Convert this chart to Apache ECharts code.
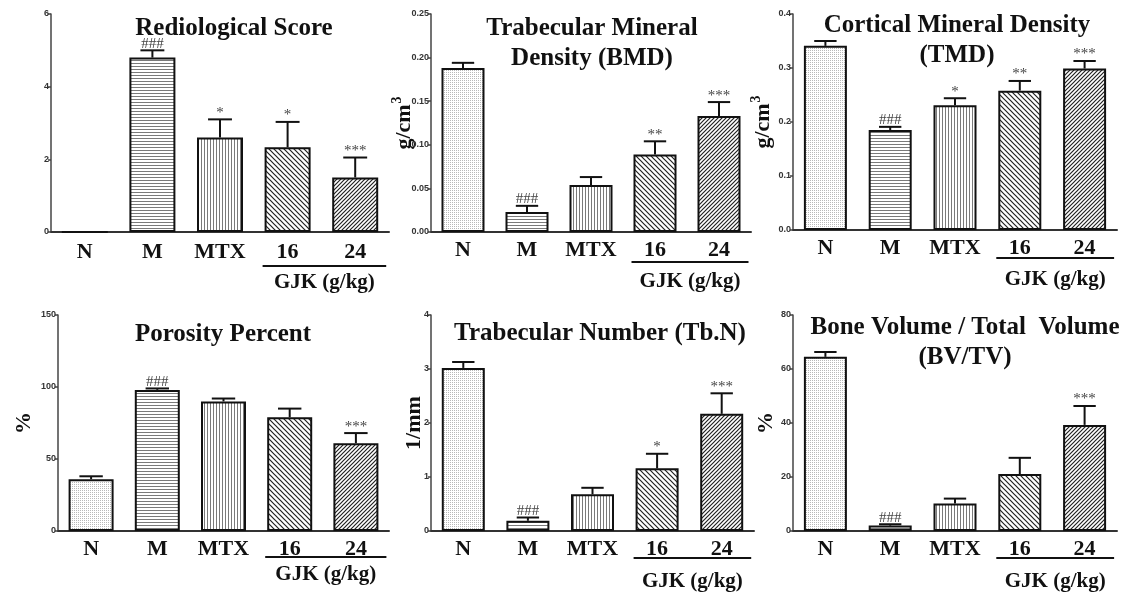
<!DOCTYPE html>
<html>
<head>
<meta charset="utf-8">
<script src="https://cdn.jsdelivr.net/npm/echarts@6/dist/echarts.min.js"></script>
<style>
  html, body { margin: 0; padding: 0; background: #fff; }
  #chart { width: 1128px; height: 595px; }
</style>
</head>
<body>
<div id="chart"></div>
<script>
// Groups shown on every panel
const categories = ['N', 'M', 'MTX', '16', '24'];

// Radiological score
const scoreMean = [0, 4.8, 2.6, 2.33, 1.5];
const scoreErr = [0, 0.2, 0.5, 0.7, 0.55];
const scoreMarks = ['', '###', '*', '*', '***'];

// Trabecular mineral density (g/cm3)
const bmdMean = [0.188, 0.023, 0.054, 0.089, 0.133];
const bmdErr = [0.006, 0.007, 0.009, 0.015, 0.016];
const bmdMarks = ['', '###', '', '**', '***'];

// Cortical mineral density (g/cm3)
const tmdMean = [0.341, 0.185, 0.231, 0.258, 0.299];
const tmdErr = [0.009, 0.006, 0.013, 0.018, 0.014];
const tmdMarks = ['', '###', '*', '**', '***'];

// Porosity (%)
const porMean = [36, 98, 90, 79, 61];
const porErr = [2, 1, 2, 6, 7];
const porMarks = ['', '###', '', '', '***'];

// Trabecular number (1/mm)
const tbnMean = [3.02, 0.19, 0.68, 1.16, 2.17];
const tbnErr = [0.11, 0.06, 0.12, 0.27, 0.38];
const tbnMarks = ['', '###', '', '*', '***'];

// Bone volume / total volume (%)
const bvMean = [64.5, 2.0, 10.2, 21.1, 39.3];
const bvErr = [1.8, 0.5, 1.8, 6, 7];
const bvMarks = ['', '###', '', '', '***'];

// Y-axis ranges: [max, interval, decimals]
const yRanges = [[6, 2, 0], [0.25, 0.05, 2], [0.4, 0.1, 1], [150, 50, 0], [4, 1, 0], [80, 20, 0]];

const titles = [
  'Rediological Score',
  'Trabecular Mineral\nDensity (BMD)',
  'Cortical Mineral Density\n(TMD)',
  'Porosity Percent',
  'Trabecular Number (Tb.N)',
  'Bone Volume / Total  Volume\n(BV/TV)'
];
const yNames = ['', '{b|g/cm}{s|3}', '{b|g/cm}{s|3}', '{b|%}', '{b|1/mm}', '{b|%}'];
const groupLabel = 'GJK (g/kg)';

const panelData = [
  [scoreMean, scoreErr, scoreMarks],
  [bmdMean, bmdErr, bmdMarks],
  [tmdMean, tmdErr, tmdMarks],
  [porMean, porErr, porMarks],
  [tbnMean, tbnErr, tbnMarks],
  [bvMean, bvErr, bvMarks]
];

// Panel geometry
const layout = [
  { left: 51, top: 14, width: 338, height: 218, bar: 46, tx: 234, ty: 14, nameGap: 20, labelGap: 9, lineDrop: 34, textDrop: 17 },
  { left: 431, top: 14, width: 320, height: 218, bar: 43, tx: 592, ty: 14, nameGap: 13, labelGap: 7, lineDrop: 30, textDrop: 20 },
  { left: 793, top: 14, width: 324, height: 216, bar: 43, tx: 957, ty: 11, nameGap: 16, labelGap: 7, lineDrop: 28, textDrop: 22 },
  { left: 58, top: 315, width: 331, height: 216, bar: 45, tx: 223, ty: 320, nameGap: 23, labelGap: 7, lineDrop: 26, textDrop: 18 },
  { left: 431, top: 315, width: 323, height: 216, bar: 43, tx: 600, ty: 319, nameGap: 6, labelGap: 7, lineDrop: 27, textDrop: 24 },
  { left: 793, top: 315, width: 324, height: 216, bar: 43, tx: 965, ty: 313, nameGap: 16, labelGap: 7, lineDrop: 27, textDrop: 24 }
];

// Fill textures for the five groups
function makeTile(w, h, draw) {
  const c = document.createElement('canvas');
  c.width = w; c.height = h;
  const g = c.getContext('2d');
  g.fillStyle = '#fff';
  g.fillRect(0, 0, w, h);
  draw(g, w, h);
  return { image: c, repeat: 'repeat' };
}
const fills = [
  makeTile(2, 2, g => { g.fillStyle = '#b8b8b8'; g.fillRect(0, 0, 1, 1); }),
  makeTile(1, 3, g => { g.fillStyle = '#7a7a7a'; g.fillRect(0, 0, 1, 1); }),
  makeTile(3, 1, g => { g.fillStyle = '#7a7a7a'; g.fillRect(0, 0, 1, 1); }),
  makeTile(5, 5, (g, w, h) => {
    g.strokeStyle = '#222'; g.lineWidth = 1.2;
    g.beginPath();
    g.moveTo(-1, -1); g.lineTo(w + 1, h + 1);
    g.moveTo(-1, h - 1); g.lineTo(1, h + 1);
    g.moveTo(w - 1, -1); g.lineTo(w + 1, 1);
    g.stroke();
  }),
  makeTile(4, 4, (g, w, h) => {
    g.strokeStyle = '#222'; g.lineWidth = 1.2;
    g.beginPath();
    g.moveTo(-1, h + 1); g.lineTo(w + 1, -1);
    g.moveTo(-1, 1); g.lineTo(1, -1);
    g.moveTo(w - 1, h + 1); g.lineTo(w + 1, h - 1);
    g.stroke();
  })
];

const serif = 'Liberation Serif, Times New Roman, serif';
const sans = 'Liberation Sans, Arial, sans-serif';

const grid = [], xAxis = [], yAxis = [], series = [], title = [];

layout.forEach((p, k) => {
  const [mean, err, marks] = panelData[k];
  const [yMax, yStep, dec] = yRanges[k];

  grid.push({ left: p.left, top: p.top, width: p.width, height: p.height });

  title.push({
    text: titles[k], left: p.tx, top: p.ty, textAlign: 'center', padding: 0,
    textStyle: { fontFamily: serif, fontWeight: 'bold', fontSize: 25, lineHeight: 30, color: '#111' }
  });

  xAxis.push({
    type: 'category', gridIndex: k, data: categories,
    axisLine: { lineStyle: { color: '#333', width: 2 } },
    axisTick: { alignWithLabel: true, length: 3, lineStyle: { color: '#333', width: 1.5 } },
    axisLabel: { interval: 0, hideOverlap: false, margin: p.labelGap, fontFamily: serif, fontWeight: 'bold', fontSize: 22, color: '#111' }
  });

  yAxis.push({
    type: 'value', gridIndex: k, min: 0, max: yMax, interval: yStep,
    name: yNames[k], nameLocation: 'middle', nameGap: p.nameGap, nameMoveOverlap: false,
    nameTextStyle: {
      rich: {
        b: { fontFamily: serif, fontWeight: 'bold', fontSize: 22, color: '#111' },
        s: { fontFamily: serif, fontWeight: 'bold', fontSize: 14, color: '#111', verticalAlign: 'top', padding: [0, 0, 14, 1] }
      }
    },
    splitLine: { show: false },
    axisLine: { show: true, lineStyle: { color: '#444', width: 1.5 } },
    axisTick: { show: true, length: 3, lineStyle: { color: '#444', width: 1.5 } },
    axisLabel: {
      margin: 2, fontFamily: sans, fontWeight: 'bold', fontSize: 9, color: '#333',
      formatter: v => v.toFixed(dec)
    }
  });

  series.push({
    type: 'bar', xAxisIndex: k, yAxisIndex: k, barWidth: p.bar,
    silent: true, animation: false,
    data: mean.map((v, i) => ({
      value: v,
      itemStyle: { color: fills[i], borderColor: '#111', borderWidth: 2 }
    }))
  });

  // upper error bars with significance marks
  series.push({
    type: 'custom', xAxisIndex: k, yAxisIndex: k, silent: true, animation: false, z: 5,
    data: mean.map((v, i) => [i, v, err[i]]),
    renderItem: (params, api) => {
      const e = api.value(2);
      if (!e) return null;
      const i = api.value(0);
      const base = api.coord([i, api.value(1)]);
      const tip = api.coord([i, api.value(1) + e]);
      const half = p.bar * 0.26;
      const children = [
        { type: 'line', shape: { x1: base[0], y1: base[1], x2: tip[0], y2: tip[1] }, style: { stroke: '#111', lineWidth: 2 } },
        { type: 'line', shape: { x1: tip[0] - half, y1: tip[1], x2: tip[0] + half, y2: tip[1] }, style: { stroke: '#111', lineWidth: 2 } }
      ];
      const mark = marks[params.dataIndex];
      if (mark) {
        children.push({
          type: 'text', x: tip[0], y: tip[1] + 1,
          style: { text: mark, align: 'center', verticalAlign: 'bottom', fontFamily: serif, fontSize: 15, fill: '#444' }
        });
      }
      return { type: 'group', children };
    }
  });

  // bracket under the two GJK doses
  series.push({
    type: 'custom', xAxisIndex: k, yAxisIndex: k, silent: true, animation: false,
    data: [[3, 4]],
    renderItem: (params, api) => {
      const a = api.coord([api.value(0), 0]);
      const b = api.coord([api.value(1), 0]);
      const x1 = a[0] - p.bar / 2 - 2;
      const x2 = b[0] + p.bar / 2 + 8;
      const y = a[1] + p.lineDrop;
      return {
        type: 'group',
        children: [
          { type: 'line', shape: { x1, y1: y, x2, y2: y }, style: { stroke: '#111', lineWidth: 2 } },
          {
            type: 'text', x: (x1 + x2) / 2, y: y + p.textDrop,
            style: { text: groupLabel, align: 'center', verticalAlign: 'middle', fontFamily: serif, fontWeight: 'bold', fontSize: 21, fill: '#111' }
          }
        ]
      };
    }
  });
});

const chart = echarts.init(document.getElementById('chart'), null, { renderer: 'canvas' });
chart.setOption({ animation: false, backgroundColor: '#fff', title, grid, xAxis, yAxis, series });
</script>
</body>
</html>
